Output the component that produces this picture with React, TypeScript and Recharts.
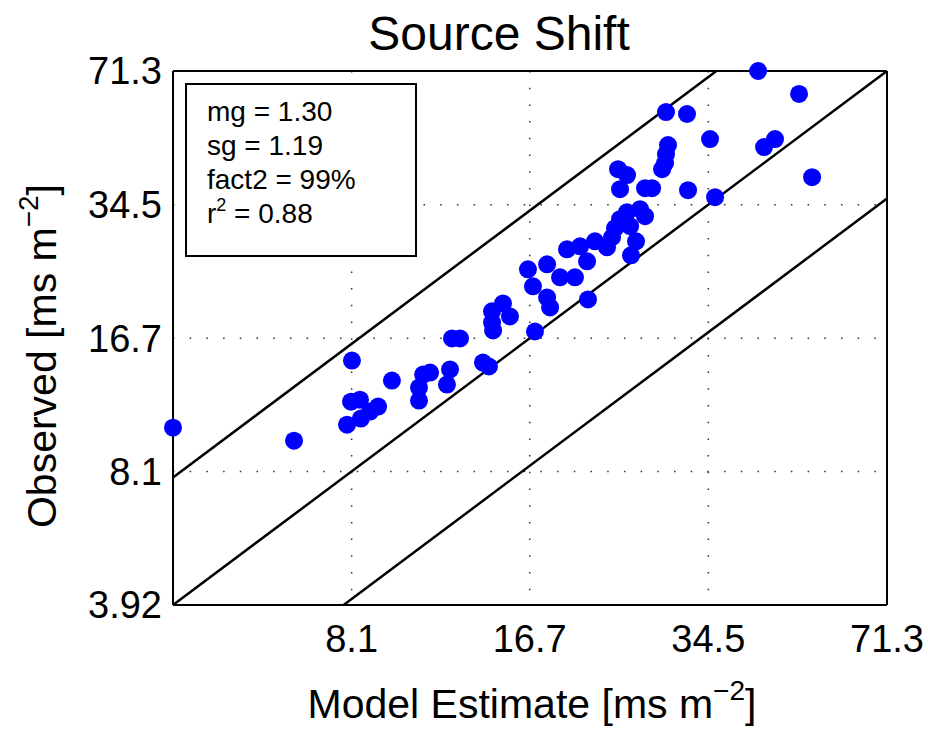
import { ScatterChart, Scatter, XAxis, YAxis, CartesianGrid, ReferenceLine, Customized } from 'recharts'

// model estimate vs observed, both in ms m^-2
const MODEL = [
  3.92, 6.41, 8.11, 9.54, 8.08, 8.38, 9.02, 7.95, 8.41, 8.73,
  10.83, 11.14, 10.65, 10.65, 12.08, 11.93, 12.18, 12.58, 13.81, 14.15,
  14.33, 14.98, 15.41, 14.39, 14.33, 17.06, 16.58, 17.92, 16.92, 17.92,
  18.14, 18.89, 20.07, 19.43, 20.49, 21.08, 21.77, 22.86, 23.62, 25.1,
  25.72, 25.2, 21.16, 26.14, 26.68, 24.8, 24.1, 23.33, 29.29, 29.05,
  28.94, 28.59, 23.91, 24.8, 24.1, 26.68, 27.45, 31.77, 34.74, 35.46,
  42.23, 49.88, 29.05, 31.64, 45.24, 43.27, 52.59,
]
const OBSERVED = [
  10.27, 9.57, 14.79, 13.27, 11.83, 11.96, 11.52, 10.44, 10.79, 11.21,
  13.71, 13.86, 12.77, 11.9, 14.09, 12.98, 16.68, 16.68, 14.63, 14.32,
  19.32, 20.17, 18.8, 17.42, 18.19, 17.32, 24.28, 24.94, 22.13, 20.84,
  19.74, 23.24, 23.24, 27.07, 27.51, 25.36, 28.27, 27.37, 30.35, 30.68,
  28.27, 26.2, 20.62, 33.65, 32.4, 33.11, 31.87, 28.9, 47.67, 45.39,
  43.23, 41.84, 41.84, 40.5, 37.52, 37.73, 37.73, 37.32, 49.26, 35.92,
  71.3, 62.93, 57.06, 56.45, 49.26, 47.16, 40.06,
]

const X_TICKS = [8.1, 16.7, 34.5, 71.3]
const Y_TICKS = [3.92, 8.1, 16.7, 34.5, 71.3]
const AXIS_RANGE: [number, number] = [3.92, 71.3]

// 1:2, 1:1 and 2:1 guide lines
const FACTOR_LINES = [0.5, 1, 2]

const STATS = [
  { name: 'mg', sup: '', value: '1.30' },
  { name: 'sg', sup: '', value: '1.19' },
  { name: 'fact2', sup: '', value: '99%' },
  { name: 'r', sup: '2', value: '0.88' },
]

const FONT = '"Liberation Sans", Arial, Helvetica, sans-serif'

const points = MODEL.map((x, i) => ({ x, y: OBSERVED[i] }))

function segmentFor(f: number) {
  const [lo, hi] = AXIS_RANGE
  const x0 = Math.max(lo, lo / f)
  const x1 = Math.min(hi, hi / f)
  return [
    { x: x0, y: x0 * f },
    { x: x1, y: x1 * f },
  ]
}

const BlueDot = (props: any) => <circle cx={props.cx} cy={props.cy} r={9} fill="#0000ff" />

function Annotations() {
  return (
    <g fontFamily={FONT} fill="#000">
      <text x={499} y={50} fontSize={48} textAnchor="middle">Source Shift</text>

      <text x={532} y={718} fontSize={41} textAnchor="middle">
        Model Estimate [ms m<tspan fontSize={28} dy={-18}>−2</tspan>
        <tspan dy={18}>]</tspan>
      </text>

      <text x={56} y={356} fontSize={41} textAnchor="middle" transform="rotate(-90, 56, 356)">
        Observed [ms m<tspan fontSize={28} dy={-18}>−2</tspan>
        <tspan dy={18}>]</tspan>
      </text>

      <rect x={186} y={84} width={230} height={172} fill="#fff" stroke="#000" strokeWidth={2} />
      {STATS.map((s, i) => (
        <text key={s.name} x={207} y={121 + i * 34} fontSize={28}>
          {s.name}
          {s.sup ? (
            <>
              <tspan fontSize={18} dy={-12}>{s.sup}</tspan>
              <tspan dy={12}>{` = ${s.value}`}</tspan>
            </>
          ) : (
            ` = ${s.value}`
          )}
        </text>
      ))}
    </g>
  )
}

const tickStyle = { fill: '#000', fontSize: 38, fontFamily: FONT }
const frame = { stroke: '#000', strokeWidth: 2 }

export default function App() {
  return (
    <div style={{ position: 'absolute', left: 0, top: 0, width: 928, height: 730, background: '#fff' }}>
      <ScatterChart width={928} height={730} margin={{ top: 71, right: 41, bottom: 0, left: 0 }}>
        <CartesianGrid
          xAxisId="x"
          yAxisId="y"
          stroke="#333"
          strokeWidth={1.5}
          strokeDasharray="1.5 15.2"
        />
        <XAxis
          xAxisId="x"
          type="number"
          dataKey="x"
          scale="log"
          domain={AXIS_RANGE}
          ticks={X_TICKS}
          interval={0}
          height={125}
          tickLine={false}
          tickSize={0}
          tickMargin={20}
          axisLine={frame}
          tick={tickStyle}
        />
        <XAxis xAxisId="xin" type="number" scale="log" domain={AXIS_RANGE} allowDataOverflow ticks={X_TICKS}
          orientation="bottom" mirror tick={false} tickSize={8} axisLine={false} tickLine={frame} />
        <XAxis xAxisId="top" type="number" scale="log" domain={AXIS_RANGE} allowDataOverflow ticks={X_TICKS}
          orientation="top" mirror tick={false} tickSize={8} axisLine={frame} tickLine={frame} />
        <YAxis
          yAxisId="y"
          type="number"
          dataKey="y"
          scale="log"
          domain={AXIS_RANGE}
          ticks={Y_TICKS}
          interval={0}
          width={173}
          tickLine={false}
          tickSize={0}
          tickMargin={11}
          axisLine={frame}
          tick={tickStyle}
        />
        <YAxis yAxisId="yin" type="number" scale="log" domain={AXIS_RANGE} allowDataOverflow ticks={Y_TICKS}
          orientation="left" mirror tick={false} tickSize={8} axisLine={false} tickLine={frame} />
        <YAxis yAxisId="right" type="number" scale="log" domain={AXIS_RANGE} allowDataOverflow ticks={Y_TICKS}
          orientation="right" mirror tick={false} tickSize={8} axisLine={frame} tickLine={frame} />
        <Scatter xAxisId="x" yAxisId="y" data={points} fill="#0000ff" shape={BlueDot} isAnimationActive={false} />
        {FACTOR_LINES.map((f) => (
          <ReferenceLine
            key={f}
            xAxisId="x"
            yAxisId="y"
            segment={segmentFor(f)}
            stroke="#000"
            strokeWidth={2.5}
            ifOverflow="visible"
          />
        ))}
        <Customized component={Annotations} />
      </ScatterChart>
    </div>
  )
}
